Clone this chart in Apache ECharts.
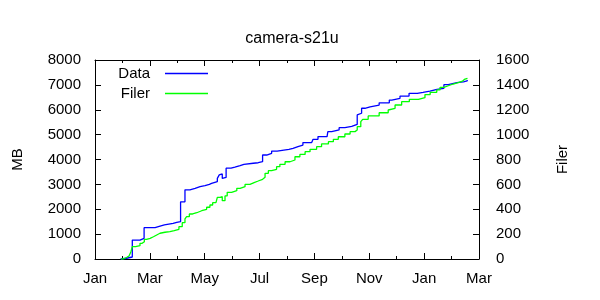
<!DOCTYPE html>
<html>
<head>
<meta charset="utf-8">
<script src="https://cdn.jsdelivr.net/npm/echarts@6/dist/echarts.min.js"></script>
<style>html,body{margin:0;padding:0;background:#fff}#c{width:600px;height:300px}</style>
</head>
<body>
<div id="c"></div>
<script>
// Tick labels (x axis value = months since Jan 1 of first year)
const monthTickLabels = ['Jan', 'Mar', 'May', 'Jul', 'Sep', 'Nov', 'Jan', 'Mar'];

// Data series (MB, left axis)
const dataMonths = [0.93, 1.0, 1.15, 1.36, 1.64, 1.79, 2.19, 2.31, 2.53, 2.85, 2.98, 3.12, 3.28, 3.46, 3.65, 3.83, 4.01, 4.17, 4.25, 4.46, 4.53, 4.58, 4.64, 4.70, 4.78, 4.96, 5.10, 5.29, 5.43, 5.77, 5.95, 6.11, 6.26, 6.44, 6.64, 7.07, 7.22, 7.40, 7.58, 7.90, 7.95, 8.13, 8.46, 8.49, 8.63, 8.90, 9.11, 9.36, 9.56, 9.60, 9.72, 9.84, 10.03, 10.36, 10.73, 10.82, 11.12, 11.45, 11.75, 11.96, 12.21, 12.47, 12.72, 12.88, 13.19, 13.43, 13.57];
const dataMB = [0, 30, 80, 760, 830, 1260, 1300, 1370, 1430, 1470, 1500, 2300, 2780, 2840, 2910, 2950, 3000, 3040, 3110, 3240, 3380, 3420, 3240, 3280, 3650, 3690, 3750, 3800, 3850, 3870, 3910, 4180, 4250, 4340, 4410, 4450, 4520, 4580, 4680, 4740, 4810, 4920, 4970, 5120, 5190, 5280, 5330, 5410, 5790, 5860, 6060, 6120, 6190, 6280, 6390, 6460, 6550, 6660, 6700, 6750, 6820, 6860, 7010, 7090, 7120, 7160, 7200];

// Filer series (count, right axis)
const filerMonths = [0.95, 1.03, 1.16, 1.24, 1.31, 1.36, 1.48, 1.64, 1.72, 1.80, 1.88, 2.01, 2.13, 2.25, 2.37, 2.55, 2.73, 2.89, 3.06, 3.18, 3.28, 3.34, 3.44, 3.56, 3.71, 3.89, 4.07, 4.19, 4.29, 4.41, 4.46, 4.56, 4.64, 4.74, 4.82, 4.98, 5.17, 5.29, 5.47, 5.65, 5.80, 5.95, 6.11, 6.20, 6.32, 6.44, 6.62, 6.74, 6.93, 7.11, 7.29, 7.47, 7.66, 7.84, 8.08, 8.26, 8.51, 8.69, 8.87, 9.11, 9.30, 9.48, 9.56, 9.69, 9.76, 9.96, 10.36, 10.69, 10.75, 10.94, 11.18, 11.46, 11.79, 12.03, 12.22, 12.46, 12.58, 12.72, 12.88, 13.06, 13.24, 13.40, 13.49, 13.58];
const filerCount = [0, 14, 24, 40, 59, 99, 107, 126, 139, 158, 166, 179, 193, 207, 215, 220, 228, 239, 260, 292, 322, 340, 362, 372, 388, 399, 416, 434, 453, 461, 496, 501, 469, 507, 536, 549, 568, 581, 600, 614, 627, 641, 657, 689, 710, 721, 742, 761, 782, 796, 822, 841, 863, 882, 903, 925, 943, 962, 983, 1005, 1024, 1037, 1064, 1104, 1123, 1150, 1176, 1198, 1212, 1238, 1265, 1284, 1297, 1322, 1340, 1359, 1380, 1393, 1407, 1418, 1431, 1447, 1453, 1453];

const FONT = 'Liberation Sans';
const chart = echarts.init(document.getElementById('c'), null, {renderer: 'canvas'});

const tickStyle = {show: true, inside: true, length: 6, lineStyle: {color: '#000', width: 1}};
const minorStyle = {show: true, splitNumber: 2, length: 3, lineStyle: {color: '#000', width: 1}};
const lineAxis = {show: true, onZero: false, lineStyle: {color: '#000', width: 1}};
const labelStyle = {color: '#000', fontFamily: FONT, fontSize: 15};
const legendText = {fontFamily: FONT, fontSize: 15, color: '#000', padding: [0, 10, 0, 0]};

chart.setOption({
  animation: false,
  backgroundColor: '#fff',
  title: {
    text: 'camera-s21u', left: 287, top: 26, textAlign: 'center',
    textStyle: {fontFamily: FONT, fontSize: 16, fontWeight: 'normal', color: '#000'}
  },
  legend: [
    {data: ['Data'], orient: 'vertical', align: 'right', top: 66, icon: 'rect',
     itemWidth: 43, itemHeight: 1.3, textStyle: legendText},
    {data: ['Filer'], orient: 'vertical', align: 'right', top: 86, icon: 'rect',
     itemWidth: 43, itemHeight: 1.3, textStyle: legendText}
  ].map(l => Object.assign(l, {right: 392, padding: 0})),
  grid: {left: 95, right: 121, top: 60, bottom: 41, containLabel: false},
  xAxis: [
    {type: 'value', position: 'bottom', min: 0, max: 14, interval: 2,
     axisLine: lineAxis, axisTick: tickStyle, minorTick: minorStyle, splitLine: {show: false},
     axisLabel: Object.assign({margin: 12, formatter: v => monthTickLabels[Math.round(v / 2)]}, labelStyle)},
    {type: 'value', position: 'top', min: 0, max: 14, interval: 2,
     axisLine: lineAxis, axisTick: tickStyle, minorTick: minorStyle, splitLine: {show: false},
     axisLabel: {show: false}}
  ],
  yAxis: [
    {type: 'value', position: 'left', min: 0, max: 8000, interval: 1000,
     name: 'MB', nameLocation: 'middle', nameRotate: 90, nameGap: 70,
     nameTextStyle: {fontFamily: FONT, fontSize: 15, color: '#000'},
     axisLine: lineAxis, axisTick: tickStyle, splitLine: {show: false},
     axisLabel: Object.assign({margin: 14, formatter: v => String(v)}, labelStyle)},
    {type: 'value', position: 'right', min: 0, max: 1600, interval: 200,
     name: 'Filer', nameLocation: 'middle', nameRotate: 90, nameGap: 76,
     nameTextStyle: {fontFamily: FONT, fontSize: 15, color: '#000'},
     axisLine: lineAxis, axisTick: tickStyle, splitLine: {show: false},
     axisLabel: Object.assign({margin: 17, formatter: v => String(v)}, labelStyle)}
  ],
  series: [
    {name: 'Data', type: 'line', step: 'end', xAxisIndex: 0, yAxisIndex: 0, symbol: 'none',
     color: '#0000ff', lineStyle: {color: '#0000ff', width: 1.3},
     data: dataMonths.map((m, i) => [m, dataMB[i]])},
    {name: 'Filer', type: 'line', step: 'end', xAxisIndex: 0, yAxisIndex: 1, symbol: 'none',
     color: '#00ff00', lineStyle: {color: '#00ff00', width: 1.3},
     data: filerMonths.map((m, i) => [m, filerCount[i]])}
  ]
});
</script>
</body>
</html>
